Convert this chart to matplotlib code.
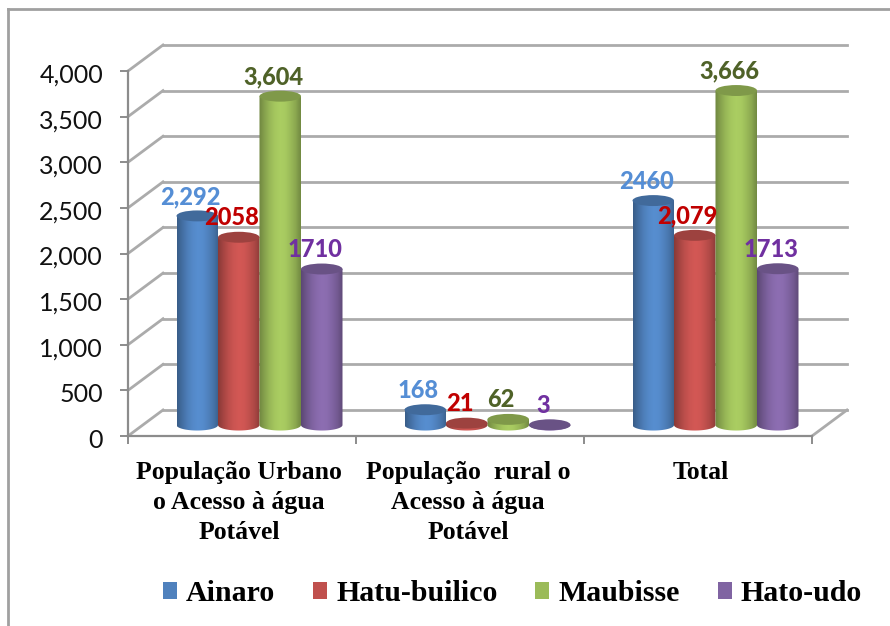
import numpy as np
import matplotlib
matplotlib.use("Agg")
import matplotlib.pyplot as plt
from matplotlib.lines import Line2D
from matplotlib.patches import Rectangle, PathPatch, Ellipse
from matplotlib.path import Path
from matplotlib.colors import to_rgb
from matplotlib.transforms import ScaledTranslation

categories = ["População Urbano\no Acesso à água\nPotável",
              "População  rural o\nAcesso à água\nPotável",
              "Total"]
series = ["Ainaro", "Hatu-builico", "Maubisse", "Hato-udo"]
ainaro = [2292, 168, 2460]
hatu_builico = [2058, 21, 2079]
maubisse = [3604, 62, 3666]
hato_udo = [1710, 3, 1713]
ainaro_labels = ["2,292", "168", "2460"]
hatu_labels = ["2058", "21", "2,079"]
maubisse_labels = ["3,604", "62", "3,666"]
hato_labels = ["1710", "3", "1713"]
y_ticks = [0, 500, 1000, 1500, 2000, 2500, 3000, 3500, 4000]
y_tick_labels = ["0", "500", "1,000", "1,500", "2,000", "2,500", "3,000", "3,500", "4,000"]
colors = ["#4F81BD", "#C0504D", "#9BBB59", "#8064A2"]
label_colors = ["#558ED5", "#C00000", "#4F6228", "#7030A0"]

W, H = 890, 626
fig = plt.figure(figsize=(W / 100, H / 100), dpi=100, facecolor="white")
ax = fig.add_axes([128 / W, 1 - 436 / H, 684 / W, 365 / H])
ax.set_xlim(0, 3)
ax.set_ylim(0, 4000)
ax.patch.set_alpha(0)

GRID = "#ABABAB"
DX, DY = 0.1535, 285      # depth of the 3-D box in data units
for v in y_ticks:
    ax.plot([0, DX], [v, v + DY], color=GRID, lw=2, clip_on=False, zorder=1)
    ax.plot([DX, 3 + DX], [v + DY, v + DY], color=GRID, lw=2, clip_on=False, zorder=1)
ax.plot([3, 3 + DX], [0, DY], color=GRID, lw=2, clip_on=False, zorder=1)

for s in ("top", "right"):
    ax.spines[s].set_visible(False)
for s in ("left", "bottom"):
    ax.spines[s].set_color("#8C8C8C")
    ax.spines[s].set_linewidth(1.6)
ax.set_xticks([0, 1, 2, 3])
ax.set_xticklabels([])
ax.set_xticks([0.5, 1.5, 2.5], minor=True)
ax.set_xticklabels(categories, minor=True, family="Liberation Serif", weight="bold",
                   fontsize=18.5, linespacing=1.38)
ax.tick_params(axis="x", which="major", length=6, width=1.4, color="#8C8C8C")
ax.tick_params(axis="x", which="minor", length=0, pad=18)
for lab, dx_px in zip(ax.get_xticklabels(minor=True), (-3, -2, 3)):
    lab.set_transform(lab.get_transform() + ScaledTranslation(dx_px / 100, 0, fig.dpi_scale_trans))
ax.set_yticks(y_ticks)
ax.set_yticklabels(y_tick_labels, family="Lato", fontsize=18, color="#111111")
ax.tick_params(axis="y", length=6, width=1.4, color="#8C8C8C", pad=12)
shift = ScaledTranslation(0, -2 / 100, fig.dpi_scale_trans)
for lab in ax.get_yticklabels():
    lab.set_transform(lab.get_transform() + shift)

BAR_W, BASE, CAP = 0.182, 120, 60
OFFSETS = [-0.273, -0.091, 0.091, 0.273]
CENTER = 0.5 + DX / 2
t = np.linspace(np.pi, 2 * np.pi, 40)
ramp = np.array([0.72, 0.86, 0.98, 1.06, 1.10, 1.08, 1.0, 0.9, 0.74])
ramp = np.interp(np.linspace(0, 8, 64), np.arange(9), ramp)


def cylinder(xc, value, color):
    base_y, top_y = BASE, BASE + value
    r = BAR_W / 2
    xs = np.r_[xc + r * np.cos(t), xc + r, xc - r]
    ys = np.r_[base_y + CAP * np.sin(t), top_y, top_y]
    clip = PathPatch(Path(np.c_[xs, ys]), transform=ax.transData, fc="none", ec="none")
    ax.add_patch(clip)
    img = np.clip(np.outer(ramp, to_rgb(color)), 0, 1)[None, :, :]
    im = ax.imshow(img, extent=[xc - r, xc + r, base_y - CAP, top_y], aspect="auto",
                   interpolation="bilinear", zorder=3, clip_on=True)
    im.set_clip_path(clip)
    cap = np.clip(np.array(to_rgb(color)) * 0.82, 0, 1)
    ax.add_patch(Ellipse((xc, top_y), BAR_W, CAP * 2, fc=cap, ec="none", zorder=3.1))


data = [ainaro, hatu_builico, maubisse, hato_udo]
labels = [ainaro_labels, hatu_labels, maubisse_labels, hato_labels]
for i, (vals, labs) in enumerate(zip(data, labels)):
    for g, (v, lab) in enumerate(zip(vals, labs)):
        xc = g + CENTER + OFFSETS[i]
        cylinder(xc, v, colors[i])
        ax.annotate(lab, (xc, v + BASE), xytext=(-5, 14), textcoords="offset points",
                    ha="center", va="center", family="Lato", weight="black", fontsize=17,
                    color=label_colors[i], zorder=5, annotation_clip=False)
ax.set_xlim(0, 3)
ax.set_ylim(0, 4000)

# chart frame (top and left edges only reach the picture)
fig.add_artist(Line2D([8 / W, 8 / W], [0, 1 - 9 / H], color="#A0A0A0", lw=2))
fig.add_artist(Line2D([8 / W, 1], [1 - 9 / H, 1 - 9 / H], color="#A0A0A0", lw=2))

handles = [Rectangle((0, 0), 1, 1, fc=c, ec="none") for c in colors]
leg = fig.legend(handles, series, loc="lower left", bbox_to_anchor=(163 / W, 1 - 607 / H),
                 ncol=4, frameon=False, borderpad=0, borderaxespad=0,
                 handlelength=0.47, handleheight=0.47, handletextpad=0.3, columnspacing=1.27,
                 prop={"family": "Liberation Serif", "weight": "bold", "size": 21.5})
fig.savefig("out.png", dpi=100)
